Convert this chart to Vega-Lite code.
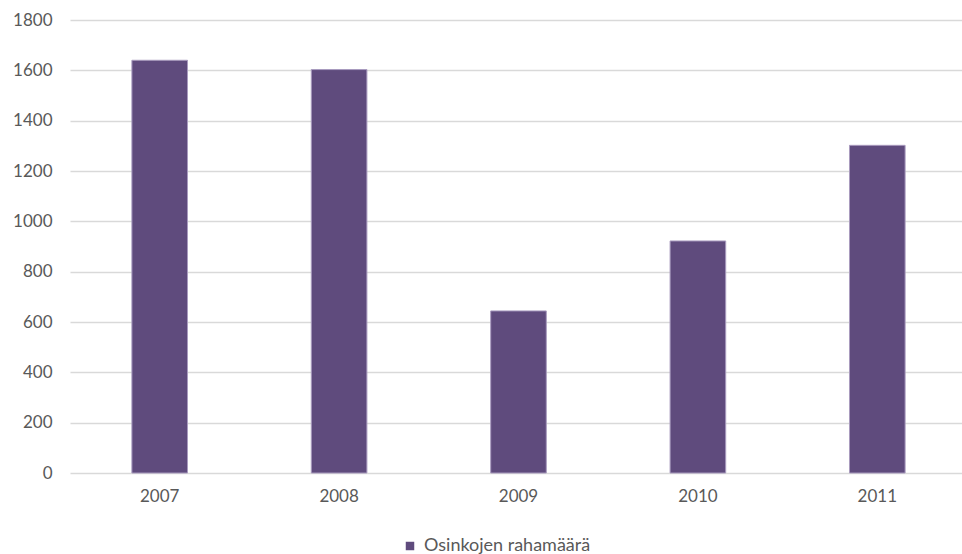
{
  "$schema": "https://vega.github.io/schema/vega-lite/v6.json",
  "autosize": "none",
  "width": 897,
  "height": 453,
  "padding": {"left": 70, "top": 20, "right": 0, "bottom": 81},
  "background": "#ffffff",
  "config": {
    "view": {"stroke": null},
    "font": "Lato",
    "axis": {
      "labelFont": "Lato",
      "labelFontSize": 17,
      "labelColor": "#595959",
      "ticks": false,
      "domain": false,
      "title": null
    },
    "legend": {
      "labelFont": "Lato",
      "labelFontSize": 18,
      "labelColor": "#595959",
      "labelLimit": 400
    }
  },
  "data": {
    "values": [
      {"vuosi": "2007", "sarja": "Osinkojen rahamäärä", "arvo": 1640},
      {"vuosi": "2008", "sarja": "Osinkojen rahamäärä", "arvo": 1603},
      {"vuosi": "2009", "sarja": "Osinkojen rahamäärä", "arvo": 644},
      {"vuosi": "2010", "sarja": "Osinkojen rahamäärä", "arvo": 922},
      {"vuosi": "2011", "sarja": "Osinkojen rahamäärä", "arvo": 1302}
    ]
  },
  "mark": {"type": "bar", "stroke": "#a99bbf", "strokeWidth": 1},
  "encoding": {
    "x": {
      "field": "vuosi",
      "type": "ordinal",
      "scale": {"paddingInner": 0.69, "paddingOuter": 0.345},
      "axis": {"labelAngle": 0, "labelPadding": 15, "grid": false}
    },
    "y": {
      "field": "arvo",
      "type": "quantitative",
      "scale": {"domain": [0, 1800], "nice": false},
      "axis": {
        "values": [0, 200, 400, 600, 800, 1000, 1200, 1400, 1600, 1800],
        "format": "d",
        "grid": true,
        "gridColor": "#d9d9d9",
        "gridWidth": 1.5,
        "labelPadding": 18
      }
    },
    "color": {
      "field": "sarja",
      "type": "nominal",
      "scale": {"range": ["#5f4b7d"]},
      "legend": {
        "title": null,
        "orient": "none",
        "legendX": 331,
        "legendY": 517,
        "symbolType": "square",
        "symbolSize": 72,
        "symbolStrokeWidth": 0,
        "labelOffset": 5
      }
    }
  }
}
